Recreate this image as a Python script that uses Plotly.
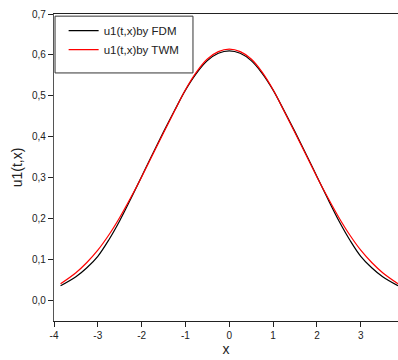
import plotly.graph_objects as go

x_vals = [-3.85, -3.5, -3.25, -3.0, -2.75, -2.5, -2.25, -2.0, -1.75, -1.5, -1.25, -1.0, -0.75, -0.5, -0.25, 0.0,
          0.25, 0.5, 0.75, 1.0, 1.25, 1.5, 1.75, 2.0, 2.25, 2.5, 2.75, 3.0, 3.25, 3.5, 3.85]
u_fdm = [0.036, 0.058, 0.080, 0.108, 0.148, 0.195, 0.248, 0.303, 0.358, 0.412, 0.464, 0.514, 0.555, 0.586, 0.604, 0.610,
         0.604, 0.586, 0.555, 0.514, 0.464, 0.412, 0.358, 0.303, 0.248, 0.195, 0.148, 0.108, 0.080, 0.058, 0.036]
u_twm = [0.041, 0.068, 0.093, 0.123, 0.160, 0.203, 0.251, 0.302, 0.356, 0.410, 0.463, 0.515, 0.558, 0.590, 0.608, 0.614,
         0.608, 0.590, 0.558, 0.515, 0.463, 0.410, 0.356, 0.302, 0.251, 0.203, 0.160, 0.123, 0.093, 0.068, 0.041]

x_ticks = [-4, -3, -2, -1, 0, 1, 2, 3]
x_tick_text = ["-4", "-3", "-2", "-1", "0", "1", "2", "3"]
y_ticks = [0.0, 0.1, 0.2, 0.3, 0.4, 0.5, 0.6, 0.7]

fig = go.Figure()
fig.add_trace(go.Scatter(x=x_vals, y=u_fdm, mode="lines", name="u1(t,x)by FDM",
                         line=dict(color="black", width=1.2, shape="spline")))
fig.add_trace(go.Scatter(x=x_vals, y=u_twm, mode="lines", name="u1(t,x)by TWM",
                         line=dict(color="red", width=1.2, shape="spline")))

fig.add_shape(type="rect", xref="paper", yref="paper", x0=0.003, x1=0.404, y0=0.808, y1=0.993,
              line=dict(color="#333333", width=1), fillcolor="rgba(0,0,0,0)")

fig.update_layout(
    width=398, height=360,
    margin=dict(l=54, r=0, t=14, b=39),
    paper_bgcolor="white", plot_bgcolor="white",
    separators=",.",
    font=dict(family="Liberation Sans, Arial, sans-serif", color="#222222"),
    showlegend=True,
    legend=dict(x=0.028, y=0.993, xanchor="left", yanchor="top", bgcolor="rgba(0,0,0,0)",
                borderwidth=0, font=dict(size=11.5, color="#222222"), tracegroupgap=0,
                itemwidth=30),
    xaxis=dict(range=[-4, 3.85], tickvals=x_ticks, ticktext=x_tick_text,
               ticks="outside", ticklen=5, tickcolor="#222222",
               showline=True, linecolor="#222222", linewidth=1.2, mirror=True,
               showgrid=False, zeroline=False, tickfont=dict(size=10),
               title=dict(text="x", font=dict(size=14), standoff=1)),
    yaxis=dict(range=[-0.05, 0.7], tickvals=y_ticks, tickformat=".1f",
               ticks="outside", ticklen=5, tickcolor="#222222",
               showline=True, linecolor="#555555", linewidth=1.2, mirror=False,
               showgrid=False, zeroline=False, tickfont=dict(size=10),
               title=dict(text="u1(t,x)", font=dict(size=14), standoff=6)),
)

fig.write_html("out.html")
